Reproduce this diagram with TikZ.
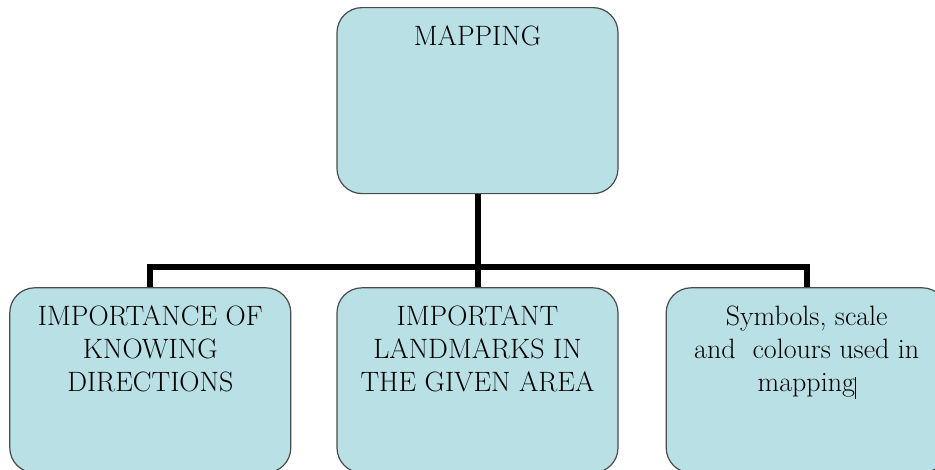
\documentclass[tikz,border=0pt]{standalone}
\usepackage{tikz}
\usetikzlibrary{positioning}
\definecolor{boxfill}{RGB}{185,224,228}
\definecolor{boxline}{RGB}{75,75,75}
\newcommand{\boxtext}[2][185]{\parbox[c][#1pt][t]{281pt}{\centering\vspace*{18pt}#2}}
\tikzset{
  topic/.style={draw=boxline, fill=boxfill, line width=1.2pt, rounded corners=25pt,
    inner sep=0pt, font=\fontsize{28}{33}\selectfont},
  link/.style={line width=6pt, black}
}
\begin{document}
\begin{tikzpicture}[x=1pt,y=-1pt]
\useasboundingbox (0,0) rectangle (935,469);
\node [topic, anchor=north] (map) at (477.5,7) {\boxtext[186]{MAPPING}};
\node [topic, below=93pt of map] (land) {\boxtext{IMPORTANT\\ LANDMARKS IN\\ THE GIVEN AREA}};
\node [topic, left=45pt of land] (dir) {\boxtext{IMPORTANCE OF\\ KNOWING\\ DIRECTIONS}};
\node [topic, right=47pt of land] (sym) {\boxtext{Symbols, scale\\ and\ \ colours used in\\ mapping\rule[-8pt]{0.8pt}{22pt}}};
\coordinate (bus) at (477.5,267);
\draw [link] (map.south) -- (bus);
\draw [link] (dir.north) |- (bus) -| (sym.north);
\draw [link] (bus) -- (land.north);
\end{tikzpicture}
\end{document}
